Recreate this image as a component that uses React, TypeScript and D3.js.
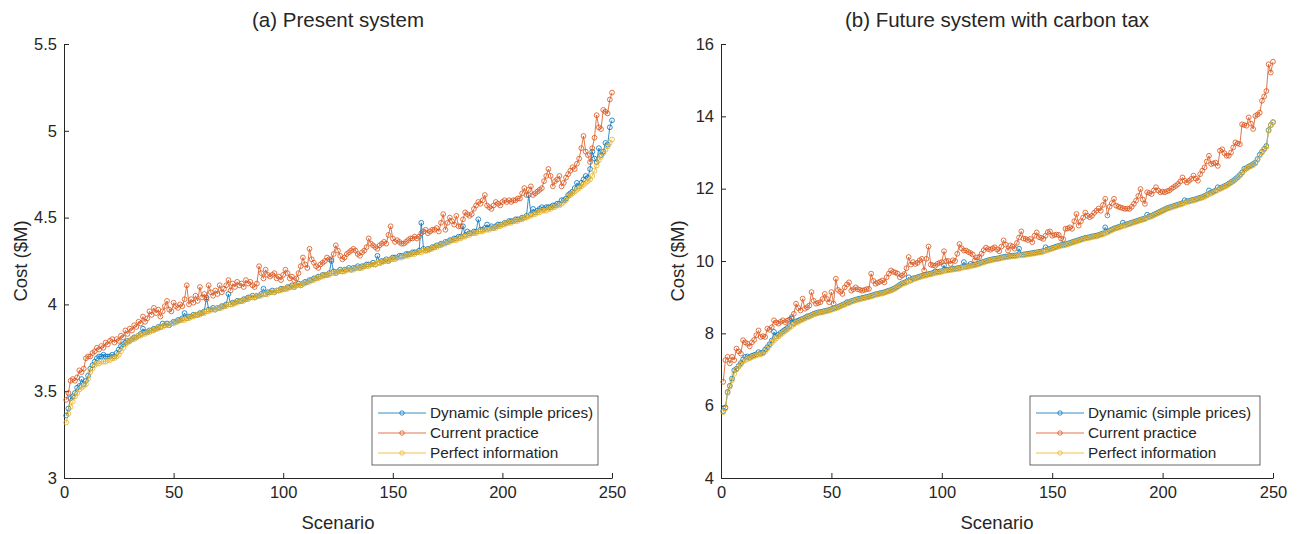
import React, { useEffect, useRef } from "react";
import * as d3 from "d3";

// scenario index 1..250
const scenarios = d3.range(1, 251);

// (a) present system
const dynamicA = [
  3.36, 3.40, 3.46, 3.47, 3.49, 3.52, 3.53, 3.57, 3.54, 3.56,
  3.59, 3.63, 3.65, 3.67, 3.69, 3.70, 3.70, 3.71, 3.70, 3.70,
  3.70, 3.71, 3.70, 3.72, 3.74, 3.76, 3.77, 3.78, 3.79, 3.79,
  3.80, 3.81, 3.81, 3.82, 3.83, 3.86, 3.84, 3.84, 3.85, 3.85,
  3.86, 3.86, 3.87, 3.87, 3.89, 3.88, 3.89, 3.88, 3.89, 3.90,
  3.90, 3.91, 3.91, 3.92, 3.95, 3.92, 3.93, 3.93, 3.94, 3.94,
  3.94, 3.95, 3.95, 3.96, 4.04, 3.97, 3.97, 3.98, 3.97, 3.98,
  3.98, 3.99, 3.99, 4.00, 4.06, 4.00, 4.01, 4.01, 4.02, 4.02,
  4.02, 4.03, 4.03, 4.04, 4.04, 4.05, 4.04, 4.05, 4.05, 4.06,
  4.09, 4.06, 4.07, 4.07, 4.08, 4.07, 4.08, 4.08, 4.09, 4.09,
  4.09, 4.10, 4.10, 4.11, 4.10, 4.11, 4.12, 4.11, 4.12, 4.13,
  4.13, 4.14, 4.14, 4.15, 4.15, 4.16, 4.16, 4.17, 4.17, 4.17,
  4.18, 4.25, 4.19, 4.18, 4.19, 4.20, 4.19, 4.20, 4.20, 4.21,
  4.20, 4.21, 4.21, 4.22, 4.21, 4.22, 4.22, 4.23, 4.23, 4.23,
  4.24, 4.23, 4.28, 4.24, 4.25, 4.25, 4.26, 4.25, 4.26, 4.27,
  4.27, 4.27, 4.28, 4.28, 4.28, 4.29, 4.29, 4.29, 4.30, 4.30,
  4.30, 4.31, 4.47, 4.32, 4.31, 4.32, 4.32, 4.33, 4.33, 4.34,
  4.34, 4.35, 4.35, 4.36, 4.36, 4.37, 4.37, 4.38, 4.38, 4.39,
  4.39, 4.45, 4.40, 4.42, 4.41, 4.41, 4.42, 4.42, 4.49, 4.43,
  4.43, 4.44, 4.46, 4.44, 4.45, 4.44, 4.45, 4.46, 4.46, 4.46,
  4.47, 4.47, 4.48, 4.48, 4.48, 4.49, 4.49, 4.49, 4.50, 4.50,
  4.51, 4.63, 4.52, 4.55, 4.53, 4.54, 4.55, 4.56, 4.55, 4.56,
  4.56, 4.56, 4.57, 4.57, 4.58, 4.58, 4.60, 4.60, 4.61, 4.63,
  4.64, 4.65, 4.67, 4.70, 4.68, 4.70, 4.72, 4.74, 4.73, 4.78,
  4.88, 4.84, 4.82, 4.90, 4.86, 4.88, 4.93, 4.92, 5.02, 5.06,
];

const currentA = [
  3.45, 3.49, 3.56, 3.57, 3.56, 3.58, 3.62, 3.61, 3.63, 3.69,
  3.70, 3.70, 3.72, 3.73, 3.75, 3.74, 3.76, 3.75, 3.78, 3.77,
  3.79, 3.80, 3.78, 3.80, 3.79, 3.82, 3.81, 3.85, 3.83, 3.86,
  3.85, 3.88, 3.87, 3.90, 3.89, 3.93, 3.90, 3.92, 3.96, 3.94,
  3.98, 3.95, 3.97, 3.93, 3.96, 3.99, 4.02, 3.97, 3.96, 4.01,
  3.99, 3.98, 4.00, 3.99, 4.03, 4.11, 4.00, 4.03, 4.01, 4.05,
  4.02, 4.10, 4.04, 4.06, 4.03, 4.11, 4.07, 4.05, 4.08, 4.06,
  4.11, 4.07, 4.09, 4.11, 4.14, 4.08, 4.12, 4.10, 4.13, 4.11,
  4.12, 4.10, 4.14, 4.12, 4.13, 4.11, 4.10, 4.12, 4.22, 4.18,
  4.15, 4.20, 4.17, 4.16, 4.17, 4.18, 4.15, 4.16, 4.14, 4.17,
  4.20, 4.18, 4.15, 4.16, 4.14, 4.15, 4.18, 4.22, 4.27, 4.23,
  4.21, 4.32, 4.26, 4.24, 4.22, 4.21, 4.23, 4.24, 4.25, 4.27,
  4.26, 4.26, 4.29, 4.34, 4.31, 4.28, 4.26, 4.27, 4.29, 4.30,
  4.31, 4.32, 4.31, 4.29, 4.28, 4.30, 4.31, 4.33, 4.38, 4.35,
  4.34, 4.33, 4.32, 4.34, 4.35, 4.36, 4.35, 4.40, 4.45, 4.38,
  4.36, 4.37, 4.36, 4.35, 4.35, 4.36, 4.37, 4.38, 4.38, 4.39,
  4.38, 4.39, 4.41, 4.42, 4.43, 4.41, 4.42, 4.43, 4.43, 4.44,
  4.42, 4.47, 4.52, 4.43, 4.47, 4.50, 4.48, 4.46, 4.51, 4.45,
  4.45, 4.49, 4.53, 4.52, 4.51, 4.52, 4.55, 4.57, 4.59, 4.58,
  4.60, 4.63, 4.57, 4.56, 4.55, 4.57, 4.59, 4.58, 4.57, 4.59,
  4.60, 4.59, 4.60, 4.59, 4.60, 4.60, 4.61, 4.61, 4.64, 4.67,
  4.63, 4.66, 4.68, 4.63, 4.64, 4.65, 4.66, 4.67, 4.71, 4.74,
  4.78, 4.74, 4.68, 4.71, 4.72, 4.74, 4.68, 4.70, 4.73, 4.75,
  4.77, 4.79, 4.78, 4.81, 4.84, 4.90, 4.97, 4.88, 4.86, 4.82,
  4.90, 4.96, 5.09, 5.02, 5.01, 5.12, 5.11, 5.10, 5.18, 5.22,
];

const perfectA = [
  3.32, 3.37, 3.41, 3.44, 3.47, 3.49, 3.51, 3.52, 3.53, 3.54,
  3.57, 3.61, 3.63, 3.65, 3.66, 3.66, 3.67, 3.67, 3.67, 3.68,
  3.68, 3.69, 3.69, 3.70, 3.71, 3.73, 3.75, 3.77, 3.78, 3.79,
  3.80, 3.80, 3.81, 3.82, 3.82, 3.83, 3.83, 3.84, 3.84, 3.85,
  3.85, 3.86, 3.86, 3.87, 3.87, 3.88, 3.88, 3.88, 3.89, 3.89,
  3.90, 3.90, 3.91, 3.91, 3.91, 3.92, 3.92, 3.93, 3.93, 3.94,
  3.94, 3.94, 3.95, 3.95, 3.96, 3.96, 3.97, 3.97, 3.97, 3.98,
  3.98, 3.98, 3.99, 3.99, 4.00, 4.00, 4.00, 4.01, 4.01, 4.02,
  4.02, 4.02, 4.03, 4.03, 4.04, 4.04, 4.04, 4.05, 4.05, 4.05,
  4.06, 4.06, 4.06, 4.07, 4.07, 4.07, 4.08, 4.08, 4.08, 4.09,
  4.09, 4.09, 4.10, 4.10, 4.10, 4.11, 4.11, 4.11, 4.12, 4.12,
  4.13, 4.13, 4.14, 4.14, 4.15, 4.15, 4.16, 4.16, 4.17, 4.17,
  4.17, 4.18, 4.18, 4.18, 4.19, 4.19, 4.19, 4.19, 4.20, 4.20,
  4.20, 4.20, 4.21, 4.21, 4.21, 4.21, 4.22, 4.22, 4.22, 4.23,
  4.23, 4.23, 4.24, 4.24, 4.24, 4.25, 4.25, 4.25, 4.26, 4.26,
  4.26, 4.27, 4.27, 4.27, 4.28, 4.28, 4.28, 4.29, 4.29, 4.29,
  4.30, 4.30, 4.30, 4.31, 4.31, 4.31, 4.32, 4.32, 4.33, 4.33,
  4.34, 4.34, 4.35, 4.35, 4.36, 4.36, 4.37, 4.37, 4.37, 4.38,
  4.38, 4.39, 4.39, 4.40, 4.40, 4.41, 4.41, 4.41, 4.42, 4.42,
  4.42, 4.43, 4.43, 4.43, 4.44, 4.44, 4.44, 4.45, 4.45, 4.46,
  4.46, 4.47, 4.47, 4.47, 4.48, 4.48, 4.48, 4.49, 4.49, 4.50,
  4.50, 4.51, 4.51, 4.52, 4.52, 4.53, 4.53, 4.54, 4.54, 4.54,
  4.55, 4.55, 4.56, 4.56, 4.57, 4.57, 4.58, 4.59, 4.60, 4.62,
  4.63, 4.64, 4.65, 4.66, 4.67, 4.68, 4.69, 4.70, 4.71, 4.72,
  4.74, 4.77, 4.80, 4.83, 4.85, 4.87, 4.89, 4.91, 4.93, 4.95,
];

// (b) future system with carbon tax
const dynamicB = [
  5.85, 5.95, 6.38, 6.55, 6.75, 6.98, 7.02, 7.10, 7.18, 7.28,
  7.35, 7.36, 7.33, 7.38, 7.40, 7.42, 7.48, 7.45, 7.47, 7.55,
  7.62, 7.70, 7.80, 8.04, 7.92, 7.96, 8.01, 8.06, 8.10, 8.15,
  8.20, 8.41, 8.28, 8.33, 8.35, 8.38, 8.40, 8.43, 8.47, 8.48,
  8.51, 8.54, 8.56, 8.58, 8.59, 8.60, 8.62, 8.63, 8.65, 8.67,
  8.69, 8.71, 8.73, 8.76, 8.79, 8.81, 8.86, 8.86, 8.89, 8.91,
  8.93, 8.95, 8.96, 8.98, 8.99, 9.01, 9.02, 9.04, 9.06, 9.08,
  9.09, 9.11, 9.12, 9.14, 9.16, 9.18, 9.20, 9.23, 9.26, 9.30,
  9.34, 9.38, 9.40, 9.43, 9.55, 9.47, 9.52, 9.53, 9.55, 9.57,
  9.59, 9.61, 9.62, 9.64, 9.65, 9.67, 9.71, 9.70, 9.71, 9.72,
  9.88, 9.75, 9.76, 9.77, 9.78, 9.79, 9.80, 9.81, 9.83, 9.97,
  9.85, 9.86, 9.92, 9.89, 9.90, 9.92, 9.94, 9.96, 9.98, 10.00,
  10.02, 10.03, 10.05, 10.06, 10.07, 10.08, 10.10, 10.11, 10.12, 10.13,
  10.14, 10.15, 10.15, 10.16, 10.34, 10.18, 10.18, 10.19, 10.20, 10.21,
  10.22, 10.23, 10.24, 10.25, 10.26, 10.28, 10.38, 10.32, 10.34, 10.36,
  10.38, 10.40, 10.42, 10.44, 10.45, 10.46, 10.48, 10.50, 10.52, 10.54,
  10.56, 10.58, 10.60, 10.62, 10.64, 10.65, 10.66, 10.68, 10.69, 10.70,
  10.72, 10.74, 10.76, 10.93, 10.81, 10.84, 10.87, 10.90, 10.92, 10.94,
  10.96, 11.06, 11.00, 11.02, 11.04, 11.06, 11.08, 11.10, 11.12, 11.14,
  11.16, 11.18, 11.28, 11.23, 11.25, 11.28, 11.31, 11.34, 11.37, 11.40,
  11.43, 11.46, 11.48, 11.50, 11.52, 11.54, 11.56, 11.58, 11.60, 11.68,
  11.65, 11.66, 11.68, 11.69, 11.71, 11.73, 11.75, 11.77, 11.80, 11.83,
  11.95, 11.89, 11.92, 11.95, 12.04, 12.01, 12.04, 12.07, 12.10, 12.14,
  12.18, 12.22, 12.27, 12.32, 12.38, 12.45, 12.55, 12.57, 12.61, 12.64,
  12.68, 12.72, 12.82, 12.94, 13.02, 13.10, 13.18, 13.62, 13.76, 13.84,
];

const currentB = [
  6.66, 7.26, 7.35, 7.17, 7.35, 7.26, 7.58, 7.50, 7.44, 7.81,
  7.75, 7.71, 7.64, 7.75, 7.82, 7.95, 8.08, 7.90, 7.92, 7.90,
  8.13, 8.10, 8.17, 8.36, 8.30, 8.27, 8.32, 8.36, 8.31, 8.35,
  8.38, 8.45, 8.54, 8.82, 8.70, 8.63, 8.96, 8.68, 8.72, 8.77,
  9.14, 8.90, 8.82, 8.84, 8.86, 8.95, 9.09, 8.95, 8.86, 9.14,
  8.82, 9.51, 9.20, 9.15, 9.09, 9.27, 9.35, 9.41, 9.18, 9.22,
  9.27, 9.22, 9.20, 9.18, 9.20, 9.22, 9.23, 9.65, 9.45, 9.37,
  9.40, 9.43, 9.46, 9.41, 9.55, 9.65, 9.74, 9.70, 9.68, 9.65,
  9.55, 9.60, 9.64, 9.80, 10.11, 9.90, 9.97, 9.92, 9.95, 10.02,
  10.06, 9.74, 10.06, 10.40, 9.90, 9.88, 9.87, 9.92, 9.95, 9.97,
  10.27, 10.00, 10.00, 9.92, 10.02, 10.00, 10.20, 10.47, 10.35, 10.29,
  10.29, 10.25, 10.22, 10.18, 10.02, 10.10, 10.11, 10.20, 10.30, 10.37,
  10.33, 10.31, 10.35, 10.38, 10.32, 10.27, 10.40, 10.57, 10.45, 10.29,
  10.43, 10.40, 10.34, 10.50, 10.65, 10.82, 10.62, 10.61, 10.58, 10.61,
  10.52, 10.70, 10.79, 10.66, 10.64, 10.61, 10.70, 10.80, 10.82, 10.70,
  10.72, 10.73, 10.72, 10.62, 10.60, 10.89, 10.90, 10.93, 10.89, 11.10,
  11.30, 10.98, 11.10, 11.20, 11.34, 11.25, 11.21, 11.25, 11.33, 11.39,
  11.45, 11.39, 11.55, 11.72, 11.26, 11.50, 11.60, 11.72, 11.53, 11.50,
  11.48, 11.46, 11.44, 11.45, 11.44, 11.50, 11.58, 11.67, 11.80, 11.99,
  11.70, 11.58, 11.90, 11.88, 11.85, 11.95, 12.04, 11.95, 11.90, 11.92,
  11.90, 11.93, 11.95, 12.00, 12.04, 12.08, 12.13, 12.20, 12.31, 12.22,
  12.17, 12.22, 12.27, 12.36, 12.28, 12.22, 12.40, 12.50, 12.59, 12.75,
  12.91, 12.68, 12.70, 12.72, 12.63, 13.05, 13.09, 12.98, 12.91, 12.91,
  13.00, 13.14, 13.28, 13.25, 13.23, 13.78, 13.76, 13.74, 13.97, 13.80,
  13.65, 14.01, 14.05, 14.10, 14.43, 14.55, 14.70, 15.44, 15.21, 15.51,
];

const perfectB = [
  5.82, 5.92, 6.35, 6.52, 6.70, 6.88, 7.00, 7.08, 7.14, 7.22,
  7.26, 7.29, 7.31, 7.34, 7.37, 7.39, 7.41, 7.42, 7.44, 7.50,
  7.58, 7.66, 7.74, 7.80, 7.86, 7.91, 7.96, 8.01, 8.06, 8.10,
  8.15, 8.20, 8.25, 8.29, 8.32, 8.35, 8.38, 8.41, 8.44, 8.46,
  8.49, 8.52, 8.54, 8.56, 8.57, 8.58, 8.60, 8.61, 8.63, 8.65,
  8.67, 8.69, 8.71, 8.74, 8.77, 8.79, 8.82, 8.84, 8.87, 8.89,
  8.91, 8.93, 8.94, 8.96, 8.97, 8.99, 9.00, 9.02, 9.04, 9.06,
  9.07, 9.09, 9.10, 9.12, 9.14, 9.16, 9.18, 9.21, 9.24, 9.28,
  9.32, 9.36, 9.38, 9.41, 9.43, 9.46, 9.49, 9.51, 9.53, 9.55,
  9.57, 9.59, 9.60, 9.62, 9.63, 9.65, 9.66, 9.68, 9.69, 9.70,
  9.72, 9.73, 9.74, 9.75, 9.76, 9.77, 9.78, 9.79, 9.81, 9.82,
  9.83, 9.84, 9.85, 9.87, 9.88, 9.90, 9.92, 9.94, 9.96, 9.98,
  10.00, 10.01, 10.03, 10.04, 10.05, 10.06, 10.08, 10.09, 10.10, 10.11,
  10.12, 10.13, 10.13, 10.14, 10.15, 10.16, 10.16, 10.17, 10.18, 10.19,
  10.20, 10.21, 10.22, 10.23, 10.24, 10.26, 10.28, 10.30, 10.32, 10.34,
  10.36, 10.38, 10.40, 10.42, 10.43, 10.44, 10.46, 10.48, 10.50, 10.52,
  10.54, 10.56, 10.58, 10.60, 10.62, 10.63, 10.64, 10.66, 10.67, 10.68,
  10.70, 10.72, 10.74, 10.76, 10.79, 10.82, 10.85, 10.88, 10.90, 10.92,
  10.94, 10.96, 10.98, 11.00, 11.02, 11.04, 11.06, 11.08, 11.10, 11.12,
  11.14, 11.16, 11.19, 11.21, 11.23, 11.26, 11.29, 11.32, 11.35, 11.38,
  11.41, 11.44, 11.46, 11.48, 11.50, 11.52, 11.54, 11.56, 11.58, 11.60,
  11.63, 11.64, 11.66, 11.67, 11.69, 11.71, 11.73, 11.75, 11.78, 11.81,
  11.84, 11.87, 11.90, 11.93, 11.96, 11.99, 12.02, 12.05, 12.08, 12.12,
  12.16, 12.20, 12.25, 12.30, 12.36, 12.43, 12.50, 12.55, 12.59, 12.62,
  12.65, 12.70, 12.80, 12.92, 13.00, 13.08, 13.15, 13.60, 13.75, 13.83,
];

const seriesNames = ["Dynamic (simple prices)", "Current practice", "Perfect information"];
const seriesColors = ["#0072BD", "#D95319", "#EDB120"];
const xTicks = [0, 50, 100, 150, 200, 250];
const yTicksA = [3, 3.5, 4, 4.5, 5, 5.5];
const yTicksB = [4, 6, 8, 10, 12, 14, 16];

const FONT = "'Liberation Sans', Arial, Helvetica, sans-serif";
const INK = "#262626";

const Panel = ({ title, series, yTicks, xRange, legendX }) => {
  const gRef = useRef(null);

  useEffect(() => {
    const g = d3.select(gRef.current);
    g.selectAll("*").remove();

    const top = 44;
    const bottom = 478;
    const x = d3.scaleLinear().domain([0, 250]).range(xRange);
    const y = d3
      .scaleLinear()
      .domain([yTicks[0], yTicks[yTicks.length - 1]])
      .range([bottom, top]);

    // axes (ticks point inward, like matlab)
    const xAxis = d3
      .axisBottom(x)
      .tickValues(xTicks)
      .tickSizeInner(-5)
      .tickSizeOuter(0)
      .tickPadding(8);
    const yAxis = d3
      .axisLeft(y)
      .tickValues(yTicks)
      .tickFormat(d3.format("~g"))
      .tickSizeInner(-5)
      .tickSizeOuter(0)
      .tickPadding(7);

    [
      g.append("g").attr("transform", `translate(0,${bottom})`).call(xAxis),
      g.append("g").attr("transform", `translate(${xRange[0]},0)`).call(yAxis),
    ].forEach((ax) => {
      ax.attr("font-family", FONT).attr("font-size", 16.5);
      ax.selectAll("path, line").attr("stroke", INK);
      ax.selectAll("text").attr("fill", INK);
    });

    // data
    const line = d3
      .line()
      .x((_, i) => x(scenarios[i]))
      .y((d) => y(d));

    series.forEach((values, k) => {
      g.append("path")
        .datum(values)
        .attr("d", line)
        .attr("fill", "none")
        .attr("stroke", seriesColors[k])
        .attr("stroke-width", 0.8);
      g.append("g")
        .selectAll("circle")
        .data(values)
        .join("circle")
        .attr("cx", (_, i) => x(scenarios[i]))
        .attr("cy", (d) => y(d))
        .attr("r", 2.4)
        .attr("fill", "none")
        .attr("stroke", seriesColors[k])
        .attr("stroke-width", 0.8);
    });

    // labels
    const mid = (xRange[0] + xRange[1]) / 2;
    g.append("text")
      .attr("x", mid)
      .attr("y", 27)
      .attr("text-anchor", "middle")
      .attr("font-size", 20.5)
      .text(title);
    g.append("text")
      .attr("x", mid)
      .attr("y", 529)
      .attr("text-anchor", "middle")
      .attr("font-size", 18.5)
      .text("Scenario");
    g.append("text")
      .attr("transform", `translate(${xRange[0] - 37},${(top + bottom) / 2}) rotate(-90)`)
      .attr("text-anchor", "middle")
      .attr("font-size", 18.5)
      .text("Cost ($M)");
    g.selectAll(":scope > text").attr("font-family", FONT).attr("fill", INK);

    // legend
    const lg = g.append("g").attr("font-family", FONT).attr("font-size", 15.3);
    lg.append("rect")
      .attr("x", legendX[0])
      .attr("y", 396)
      .attr("width", legendX[1] - legendX[0])
      .attr("height", 69)
      .attr("fill", "white")
      .attr("stroke", INK)
      .attr("stroke-width", 0.7);
    seriesNames.forEach((name, k) => {
      const ry = 413 + k * 20;
      const x0 = legendX[0] + 6;
      const x1 = legendX[0] + 54;
      lg.append("line")
        .attr("x1", x0)
        .attr("x2", x1)
        .attr("y1", ry)
        .attr("y2", ry)
        .attr("stroke", seriesColors[k])
        .attr("stroke-width", 0.8);
      lg.append("circle")
        .attr("cx", (x0 + x1) / 2)
        .attr("cy", ry)
        .attr("r", 2.2)
        .attr("fill", "none")
        .attr("stroke", seriesColors[k])
        .attr("stroke-width", 0.8);
      lg.append("text")
        .attr("x", legendX[0] + 58)
        .attr("y", ry)
        .attr("dy", "0.35em")
        .attr("fill", INK)
        .text(name);
    });
  }, [title, series, yTicks, xRange, legendX]);

  return <g ref={gRef} />;
};

export default function App() {
  return (
    <svg
      width={1297}
      height={534}
      style={{ position: "absolute", left: 0, top: 0, background: "white" }}
    >
      <Panel
        title="(a) Present system"
        series={[dynamicA, currentA, perfectA]}
        yTicks={yTicksA}
        xRange={[64, 612]}
        legendX={[372, 598]}
      />
      <Panel
        title="(b) Future system with carbon tax"
        series={[dynamicB, currentB, perfectB]}
        yTicks={yTicksB}
        xRange={[721, 1273]}
        legendX={[1030, 1260]}
      />
    </svg>
  );
}
